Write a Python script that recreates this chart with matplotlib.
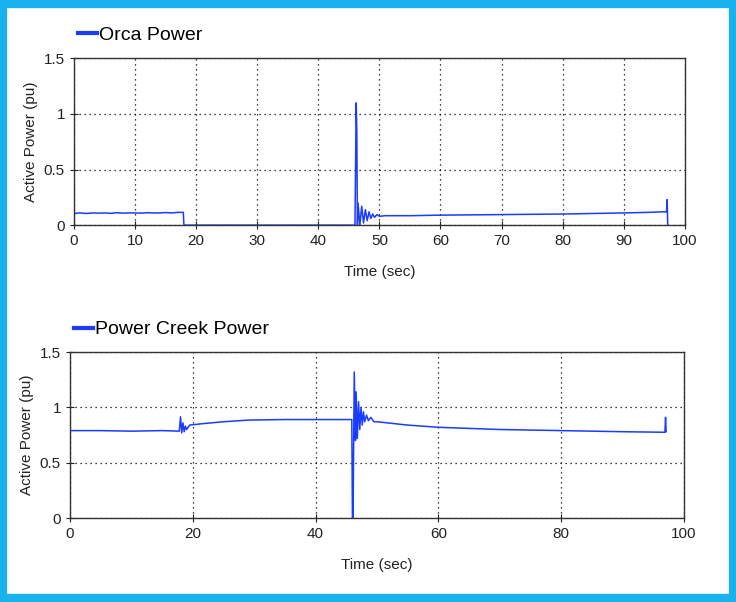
import matplotlib
matplotlib.use("Agg")
import matplotlib.pyplot as plt
from matplotlib.patches import Rectangle

plt.rcParams['font.family'] = ['Liberation Sans', 'DejaVu Sans']

# Orca Power (time in s, active power in pu)
orca_t = [0, 1, 2, 3, 4, 5, 6, 7, 8, 9, 10, 11, 12, 13, 14, 15, 16, 17, 17.9,
          18.0, 30, 46.0, 46.2, 46.3, 46.4, 46.5, 46.8, 47.1, 47.4, 47.7, 48.0,
          48.3, 48.6, 48.9, 49.2, 49.6, 50.0, 51, 55, 60, 70, 80, 90, 94,
          96.5, 97.0, 97.1, 97.2]
orca_p = [0.105, 0.11, 0.105, 0.11, 0.108, 0.11, 0.106, 0.112, 0.108, 0.11, 0.11,
          0.108, 0.112, 0.11, 0.11, 0.113, 0.11, 0.115, 0.115,
          0.0, 0.0, 0.0, 1.10, 0.84, 0.0, 0.20, 0.0, 0.17, 0.02, 0.14, 0.04,
          0.12, 0.06, 0.10, 0.07, 0.095, 0.08, 0.085, 0.085, 0.09, 0.095, 0.10,
          0.11, 0.115, 0.12, 0.12, 0.23, 0.0]

# Power Creek Power
creek_t = [0, 5, 10, 15, 17.8, 18.0, 18.2, 18.4, 18.6, 18.8, 19.0, 19.5, 22,
           25, 29, 35, 40, 45.9, 46.0, 46.1, 46.3, 46.5, 46.6, 46.8, 47.0,
           47.2, 47.4, 47.6, 47.8, 48.0, 48.3, 48.6, 49.0, 49.5, 50, 55, 60,
           70, 80, 90, 96.9, 97.0, 97.1]
creek_p = [0.79, 0.79, 0.785, 0.79, 0.785, 0.915, 0.77, 0.86, 0.78, 0.83,
           0.80, 0.84, 0.855, 0.87, 0.885, 0.89, 0.89, 0.89, 0.0, 0.0, 1.32,
           0.70, 1.14, 0.72, 1.05, 0.80, 1.00, 0.84, 0.96, 0.87, 0.93, 0.88,
           0.91, 0.87, 0.87, 0.84, 0.82, 0.80, 0.79, 0.78, 0.775, 0.91, 0.78]

line_color = '#1a3cff'

fig = plt.figure(figsize=(7.36, 6.02), dpi=100)
fig.patch.set_facecolor('white')
fig.patches.append(Rectangle((0.004, 0.006), 0.992, 0.988, transform=fig.transFigure,
                             fill=False, edgecolor='#1ab2ec', linewidth=6))


def style_axes(ax, xstep):
    ax.set_xlim(0, 100)
    ax.set_ylim(0, 1.5)
    ax.set_xticks(range(0, 101, xstep))
    ax.set_yticks([0, 0.5, 1, 1.5])
    ax.set_yticklabels(['0', '0.5', '1', '1.5'])
    ax.grid(True, color='black', linestyle=(0, (1, 3)), linewidth=0.9)
    ax.tick_params(direction='inout', length=6, labelsize=11, colors='#222222',
                   labelcolor='#222222')
    for s in ax.spines.values():
        s.set_color('#333333')
        s.set_linewidth(1.0)
    ax.set_xlabel('Time (sec)', fontsize=11, labelpad=12, color='#222222')
    ax.set_ylabel('Active Power (pu)', fontsize=11, color='#222222')


ax1 = fig.add_axes([0.1005, 0.626, 0.830, 0.277])
ax1.plot(orca_t, orca_p, color=line_color, linewidth=1.1, label='Orca Power')
style_axes(ax1, 10)
ax1.legend(loc='lower left', bbox_to_anchor=(-0.018, 1.0), frameon=False,
           fontsize=14, handlelength=1.0, handletextpad=0.1, borderpad=0.1,
           borderaxespad=0.65)

ax2 = fig.add_axes([0.0951, 0.1395, 0.8342, 0.2757])
ax2.plot(creek_t, creek_p, color=line_color, linewidth=1.1, label='Power Creek Power')
style_axes(ax2, 20)
ax2.legend(loc='lower left', bbox_to_anchor=(-0.016, 1.0), frameon=False,
           fontsize=14, handlelength=1.0, handletextpad=0.1, borderpad=0.1,
           borderaxespad=0.6)
for lg in (ax1.get_legend(), ax2.get_legend()):
    for h in lg.get_lines():
        h.set_linewidth(3)

fig.savefig('out.png', dpi=100)
